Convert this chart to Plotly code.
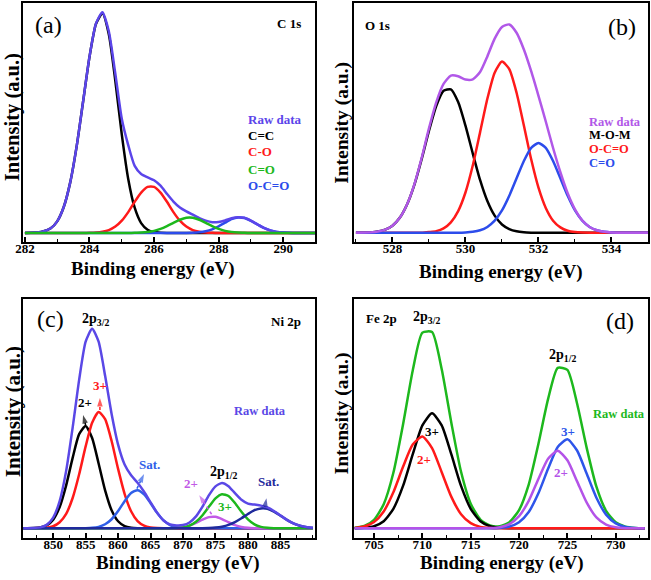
import plotly.graph_objects as go

# ---------------- Panel (a): C 1s ----------------
a_x = [282.0, 282.5, 282.8, 283.0, 283.2, 283.4, 283.6, 283.8, 284.0, 284.2, 284.4, 284.6, 284.8,
       285.0, 285.2, 285.4, 285.6, 285.8, 286.0, 286.2, 286.4, 286.6, 286.8, 287.0, 287.2, 287.4,
       287.6, 287.8, 288.0, 288.2, 288.4, 288.6, 288.8, 289.0, 289.2, 289.4, 289.6, 289.8, 290.0,
       290.3, 291.0]
a_raw = [0.02, 0.44, 2.15, 5.3, 11.7, 22.8, 39.2, 59.6, 80.2, 95.3, 100.5, 91.7, 72.5, 52.0, 40.0,
         30.5, 26.8, 25.3, 24.0, 21.5, 17.8, 14.3, 11.6, 9.8, 8.3, 6.8, 5.6, 4.9, 5.0, 5.7, 6.7, 7.2,
         6.9, 5.6, 3.9, 2.3, 1.2, 0.5, 0.2, 0.03, 0]
a_cc = [0.02, 0.44, 2.15, 5.3, 11.7, 22.8, 39.2, 59.6, 80.1, 95.1, 100, 90.4, 69.3, 44.9, 24.6, 11.5,
        4.5, 1.5, 0.42, 0.1, 0.02, 0, 0, 0, 0, 0, 0, 0, 0, 0, 0, 0, 0, 0, 0, 0, 0, 0, 0, 0, 0]
a_co = [0, 0, 0, 0, 0, 0, 0, 0, 0.05, 0.18, 0.52, 1.3, 2.9, 5.6, 9.5, 14.2, 18.4, 21.0, 21.0, 18.4,
        14.2, 9.5, 5.6, 2.9, 1.3, 0.52, 0.18, 0.05, 0, 0, 0, 0, 0, 0, 0, 0, 0, 0, 0, 0, 0]
a_c_o = [0, 0, 0, 0, 0, 0, 0, 0, 0, 0, 0, 0, 0, 0, 0, 0.06, 0.17, 0.43, 0.95, 1.83, 3.1, 4.6, 6.0,
         6.9, 6.9, 6.0, 4.6, 3.1, 1.83, 0.95, 0.43, 0.17, 0.06, 0, 0, 0, 0, 0, 0, 0, 0]
a_oco = [0, 0, 0, 0, 0, 0, 0, 0, 0, 0, 0, 0, 0, 0, 0, 0, 0, 0, 0, 0, 0, 0, 0, 0.03, 0.1, 0.31, 0.78,
         1.67, 3.05, 4.7, 6.27, 7.06, 6.8, 5.56, 3.88, 2.3, 1.17, 0.5, 0.19, 0.03, 0]
a_ticks = [282, 284, 286, 288, 290]

# ---------------- Panel (b): O 1s ----------------
b_x = [527.0, 527.4, 527.6, 527.8, 528.0, 528.2, 528.4, 528.6, 528.8, 529.0, 529.2, 529.4, 529.6,
       529.8, 530.0, 530.2, 530.4, 530.6, 530.8, 531.0, 531.2, 531.4, 531.6, 531.8, 532.0, 532.2,
       532.4, 532.6, 532.8, 533.0, 533.2, 533.4, 533.6, 533.8, 534.0, 534.4, 535.0]
b_raw = [0.02, 0.2, 0.57, 1.5, 3.4, 7.2, 13.6, 23.2, 35.8, 50.0, 62.5, 71.3, 75.3, 75.0, 73.4, 73.5,
         77.0, 84.5, 93.0, 98.6, 99.8, 95.8, 87.8, 77.4, 65.6, 53.3, 40.6, 29.0, 18.9, 11.2, 5.9, 2.8,
         1.2, 0.48, 0.17, 0.01, 0]
b_mom = [0.02, 0.2, 0.57, 1.5, 3.4, 7.2, 13.6, 23.0, 35.3, 48.8, 60.7, 68.0, 68.7, 62.6, 51.3, 38.0,
         25.3, 15.2, 8.2, 4.0, 1.8, 0.7, 0.25, 0.08, 0, 0, 0, 0, 0, 0, 0, 0, 0, 0, 0, 0, 0]
b_oco = [0, 0, 0, 0, 0, 0, 0, 0, 0, 0.35, 0.8, 2.1, 5.0, 10.4, 19.3, 32.2, 48.1, 64.2, 76.7, 82.0,
         78.4, 67.1, 51.4, 35.2, 21.6, 11.9, 5.8, 2.6, 1.0, 0.35, 0.1, 0, 0, 0, 0, 0, 0]
b_c_o = [0, 0, 0, 0, 0, 0, 0, 0, 0, 0, 0, 0, 0, 0, 0.17, 0.48, 1.2, 2.8, 5.8, 10.7, 17.7, 26.1, 34.4,
         40.7, 43.0, 40.7, 34.4, 26.1, 17.7, 10.7, 5.8, 2.8, 1.2, 0.48, 0.17, 0.01, 0]
b_ticks = [528, 530, 532, 534]

# ---------------- Panel (c): Ni 2p ----------------
c_x = [845, 846, 847, 848, 849, 850, 851, 852, 853, 854, 855, 856, 857, 858, 859, 860, 861, 862,
       863, 864, 865, 866, 867, 868, 869, 870, 871, 872, 873, 874, 875, 876, 877, 878, 879, 880,
       881, 882, 883, 884, 885, 886, 887, 888, 889, 890]
c_raw = [0, 0.01, 0.1, 0.45, 1.7, 5.3, 13.6, 28.6, 50.2, 74.0, 93.0, 99.5, 93.0, 76.0, 57.0, 41.7,
         31.8, 26.4, 22.7, 18.2, 12.9, 7.8, 3.9, 1.9, 1.4, 1.6, 2.9, 5.9, 10.8, 16.5, 20.9, 22.6, 21.0,
         17.5, 14.2, 12.3, 11.8, 11.3, 10.4, 8.6, 6.4, 4.2, 2.4, 1.3, 0.6, 0.2]
c_ni2 = [0, 0.01, 0.08, 0.37, 1.4, 4.3, 10.6, 21.4, 35.1, 46.9, 51.0, 45.0, 32.3, 18.9, 9.0, 3.5,
         1.1, 0.28, 0.06, 0.01, 0, 0, 0, 0, 0, 0, 0, 0, 0, 0, 0, 0, 0, 0, 0, 0, 0, 0, 0, 0, 0, 0, 0,
         0, 0, 0]
c_ni3 = [0, 0, 0.02, 0.08, 0.3, 1.0, 3.0, 7.2, 15.1, 26.9, 40.8, 52.6, 58.0, 54.4, 43.5, 29.6, 17.2,
         8.5, 3.6, 1.3, 0.39, 0.1, 0.02, 0, 0, 0, 0, 0, 0, 0, 0, 0, 0, 0, 0, 0, 0, 0, 0, 0, 0, 0, 0,
         0, 0, 0]
c_sat1 = [0, 0, 0, 0, 0, 0, 0, 0, 0, 0.01, 0.05, 0.21, 0.71, 2.0, 4.5, 8.6, 13.5, 17.6, 19.0, 16.9,
          12.5, 7.7, 3.9, 1.6, 0.56, 0.16, 0.04, 0.01, 0, 0, 0, 0, 0, 0, 0, 0, 0, 0, 0, 0, 0, 0, 0,
          0, 0, 0]
c_ni2b = [0, 0, 0, 0, 0, 0, 0, 0, 0, 0, 0, 0, 0, 0, 0, 0, 0, 0, 0, 0, 0, 0, 0.01, 0.04, 0.17, 0.53,
          1.33, 2.7, 4.3, 5.57, 5.7, 4.6, 3.0, 1.56, 0.65, 0.21, 0.06, 0.01, 0, 0, 0, 0, 0, 0, 0, 0]
c_ni3b = [0, 0, 0, 0, 0, 0, 0, 0, 0, 0, 0, 0, 0, 0, 0, 0, 0, 0, 0, 0, 0, 0, 0.01, 0.03, 0.13, 0.45,
          1.33, 3.2, 6.5, 10.8, 14.9, 17.0, 16.1, 12.6, 8.2, 4.4, 1.9, 0.71, 0.22, 0.05, 0.01, 0, 0,
          0, 0, 0]
c_sat2 = [0, 0, 0, 0, 0, 0, 0, 0, 0, 0, 0, 0, 0, 0, 0, 0, 0, 0, 0, 0, 0, 0, 0, 0, 0, 0, 0, 0.01,
          0.04, 0.12, 0.33, 0.8, 1.67, 3.1, 5.0, 7.1, 9.0, 9.9, 9.7, 8.3, 6.3, 4.2, 2.4, 1.26, 0.57,
          0.23]
c_ticks = [850, 855, 860, 865, 870, 875, 880, 885]
# peak-marker arrows in (c): tail x, tail y, head x, head y
c_arrows = [(855.0, 51.5, 854.6, 56.5),
            (857.2, 59.0, 857.2, 65.0),
            (862.9, 19.8, 864.0, 27.0),
            (874.4, 7.0, 872.5, 16.5),
            (882.6, 10.5, 882.85, 15.0)]

# ---------------- Panel (d): Fe 2p ----------------
d_x = [703, 704, 705, 706, 707, 708, 709, 710, 711, 712, 713, 714, 715, 716, 717, 718, 719, 720,
       721, 722, 723, 724, 725, 726, 727, 728, 729, 730, 731, 732, 733]
d_raw = [0.28, 1.2, 4.3, 12.1, 27.9, 52.2, 79.2, 98.3, 98.6, 79.9, 52.9, 28.4, 12.4, 4.4, 1.4, 1.1,
         3.1, 9.2, 22.0, 42.4, 64.9, 80.6, 79.6, 62.7, 40.3, 20.9, 8.8, 3.0, 0.82, 0.19, 0.03]
d_fe2 = [0.23, 0.96, 3.2, 8.5, 18.1, 30.9, 42.1, 46.1, 40.3, 28.2, 15.8, 7.1, 2.6, 0.74, 0.17, 0.03,
         0, 0, 0, 0, 0, 0, 0, 0, 0, 0, 0, 0, 0, 0, 0]
d_fe3 = [0.05, 0.25, 1.06, 3.6, 9.8, 21.3, 37.1, 51.7, 57.8, 51.7, 37.1, 21.3, 9.8, 3.6, 1.06, 0.25,
         0.05, 0, 0, 0, 0, 0, 0, 0, 0, 0, 0, 0, 0, 0, 0]
d_fe2b = [0, 0, 0, 0, 0, 0, 0, 0, 0, 0, 0, 0, 0, 0.02, 0.12, 0.58, 2.1, 6.1, 13.8, 24.8, 35.0, 39.0,
          34.2, 23.6, 12.9, 5.5, 1.9, 0.5, 0.1, 0.02, 0]
d_fe3b = [0, 0, 0, 0, 0, 0, 0, 0, 0, 0, 0, 0, 0, 0, 0.04, 0.23, 0.93, 3.1, 8.2, 17.6, 29.9, 40.9,
          44.7, 39.1, 27.4, 15.4, 6.9, 2.5, 0.72, 0.17, 0.03]
d_ticks = [705, 710, 715, 720, 725, 730]

# ---------------- colours ----------------
BLACK = "#000000"
RED = "#FF1A1A"
GREEN = "#1DB81D"
BLUE = "#2C4CEB"
RAW_A = "#5B45EA"
RAW_B = "#B158E8"
RAW_C = "#5A48E6"
SAT1 = "#2F5FE8"
SAT2 = "#1F2A9C"
PURP = "#C25AE6"
PURP_D = "#B453E8"
BLUE_D = "#2E55EA"
ARROW_COLS = [BLACK, RED, SAT1, PURP, SAT2]

LW = 2.5
fig = go.Figure()


def add(x, y, color, ax):
    fig.add_trace(go.Scatter(x=x, y=y, mode="lines",
                             line=dict(color=color, width=LW, shape="spline", smoothing=0.6),
                             xaxis="x" + ax, yaxis="y" + ax, hoverinfo="skip", showlegend=False))


# (a)
add(a_x, a_cc, BLACK, "")
add(a_x, a_co, RED, "")
add(a_x, a_oco, BLUE, "")
add(a_x, a_raw, RAW_A, "")
add(a_x, a_c_o, GREEN, "")
# (b)
add(b_x, b_mom, BLACK, "2")
add(b_x, b_oco, RED, "2")
add(b_x, b_c_o, BLUE, "2")
add(b_x, b_raw, RAW_B, "2")
# (c)
add(c_x, c_ni2, BLACK, "3")
add(c_x, c_ni3, RED, "3")
add(c_x, c_sat1, SAT1, "3")
add(c_x, c_ni2b, PURP, "3")
add(c_x, c_ni3b, GREEN, "3")
add(c_x, c_sat2, SAT2, "3")
add(c_x, c_raw, RAW_C, "3")
# (d)
add(d_x, d_raw, GREEN, "4")
add(d_x, d_fe3, BLACK, "4")
add(d_x, d_fe2, RED, "4")
add(d_x, d_fe3b, BLUE_D, "4")
add(d_x, d_fe2b, PURP_D, "4")

# dotted arrows in (c)
for (tx, ty, hx, hy), col in zip(c_arrows, ARROW_COLS):
    fig.add_trace(go.Scatter(x=[tx, hx], y=[ty, hy], mode="lines+markers",
                             line=dict(color=col, width=1.5, dash="dot"),
                             marker=dict(symbol="arrow", size=[0, 9], angleref="previous", color=col,
                                         line=dict(width=0)),
                             xaxis="x3", yaxis="y3", hoverinfo="skip", showlegend=False))

SERIF = "Liberation Serif, Times New Roman, serif"


def xax(domain, rng, ticks, mtick0, mdtick, anchor):
    return dict(domain=domain, range=rng, anchor=anchor, showline=True, linecolor="black", linewidth=2,
                mirror=True, ticks="inside", ticklen=5, tickwidth=1.5, tickcolor="black",
                tickmode="array", tickvals=ticks, ticktext=["<b>%d</b>" % t for t in ticks],
                ticklabelstandoff=-7,
                showgrid=False, zeroline=False,
                tickfont=dict(family=SERIF, size=13, color="black"),
                minor=dict(ticks="inside", ticklen=3, tickwidth=1.2, tickcolor="black",
                           tick0=mtick0, dtick=mdtick, showgrid=False))


def yax(domain, rng, anchor):
    return dict(domain=domain, range=rng, anchor=anchor, showline=True, linecolor="black", linewidth=2,
                mirror=True, ticks="", showticklabels=False, showgrid=False, zeroline=False)


XL = [0.0358, 0.4846]
XR = [0.5445, 0.9954]
YT = [0.5828, 0.9953]
YB = [0.0719, 0.4845]

fig.update_layout(
    width=651, height=580, margin=dict(l=0, r=0, t=0, b=0, autoexpand=False),
    paper_bgcolor="white", plot_bgcolor="white", showlegend=False,
    xaxis=xax(XL, [281.95, 291.0], a_ticks, 282, 1, "y"),
    yaxis=yax(YT, [-4.1, 104.8], "x"),
    xaxis2=xax(XR, [526.96, 535.0], b_ticks, 528, 1, "y2"),
    yaxis2=yax(YT, [-4.4, 110.2], "x2"),
    xaxis3=xax(XL, [845.4, 890.4], c_ticks, 850, 2.5, "y3"),
    yaxis3=yax(YB, [-5.0, 114.3], "x3"),
    xaxis4=xax([0.5438, 0.9959], [702.93, 733.37], d_ticks, 705, 2.5, "y4"),
    yaxis4=yax(YB, [-5.0, 115.2], "x4"),
)

ann = []


def txt(text, x, y, ax, size=13, color="black", bold=True, xanchor="center"):
    t = "<b>" + text + "</b>" if bold else text
    ann.append(dict(text=t, x=x, y=y, xref="x" + ax, yref="y" + ax, showarrow=False,
                    xanchor=xanchor, yanchor="middle",
                    font=dict(family=SERIF, size=size, color=color)))


# panel (a)
txt("(a)", 282.72, 94.7, "", size=24, bold=False)
txt("C 1s", 290.18, 95.4, "")
txt("Raw data", 288.86, 51.7, "", color=RAW_A, xanchor="left")
txt("C=C", 288.86, 44.5, "", color=BLACK, xanchor="left")
txt("C-O", 288.86, 36.9, "", color=RED, xanchor="left")
txt("C=O", 288.86, 28.9, "", color=GREEN, xanchor="left")
txt("O-C=O", 288.86, 21.7, "", color=BLUE, xanchor="left")
# panel (b)
txt("O 1s", 527.59, 99.5, "2")
txt("(b)", 534.29, 98.4, "2", size=24, bold=False)
txt("Raw data", 533.33, 52.9, "2", size=12.5, color=RAW_B, xanchor="left")
txt("M-O-M", 533.33, 47.0, "2", size=12.5, color=BLACK, xanchor="left")
txt("O-C=O", 533.33, 40.1, "2", size=12.5, color=RED, xanchor="left")
txt("C=O", 533.33, 33.4, "2", size=12.5, color=BLUE, xanchor="left")
# panel (c)
txt("(c)", 849.54, 104.2, "3", size=24, bold=False)
txt("Ni 2p", 885.8, 103.0, "3")
txt("2p<sub>3/2</sub>", 856.46, 104.0, "3", size=14)
txt("Raw data", 881.8, 58.6, "3", size=12.5, color=RAW_C)
txt("2+", 854.9, 62.5, "3", color=BLACK)
txt("3+", 857.2, 71.0, "3", color=RED)
txt("Sat.", 864.8, 32.0, "3", color=SAT1)
txt("2p<sub>1/2</sub>", 876.2, 27.6, "3", size=14)
txt("2+", 871.3, 22.5, "3", color=PURP)
txt("3+", 876.5, 10.8, "3", color=GREEN)
txt("Sat.", 883.1, 23.3, "3", color=SAT2)
# panel (d)
txt("Fe 2p", 705.8, 105.5, "4")
txt("2p<sub>3/2</sub>", 710.45, 106.0, "4", size=14)
txt("(d)", 730.45, 103.9, "4", size=24, bold=False)
txt("2p<sub>1/2</sub>", 724.5, 86.6, "4", size=14)
txt("Raw data", 730.3, 57.5, "4", size=12.5, color=GREEN)
txt("3+", 711.0, 48.6, "4", color=BLACK)
txt("2+", 710.2, 34.7, "4", color=RED)
txt("3+", 725.1, 48.6, "4", color=BLUE_D)
txt("2+", 724.3, 28.0, "4", color=PURP_D)

# axis titles
for x, y in [(0.235, 0.5355), (0.7693, 0.5310), (0.2727, 0.0285), (0.7707, 0.0285)]:
    ann.append(dict(text="<b>Binding energy (eV)</b>", x=x, y=y, xref="paper", yref="paper",
                    showarrow=False, xanchor="center", yanchor="middle",
                    font=dict(family=SERIF, size=19, color="black")))
for x, y, s in [(0.0192, 0.7988, 20.5), (0.5255, 0.7884, 19.5), (0.0192, 0.2902, 21),
                (0.5255, 0.2874, 19.5)]:
    ann.append(dict(text="<b>Intensity (a.u.)</b>", x=x, y=y, xref="paper", yref="paper",
                    showarrow=False, xanchor="center", yanchor="middle", textangle=-90,
                    font=dict(family=SERIF, size=s, color="black")))

fig.update_layout(annotations=ann)
fig.write_html("out.html", config={"displayModeBar": False},
               post_script="document.body.style.margin='0';document.body.style.padding='0';")
